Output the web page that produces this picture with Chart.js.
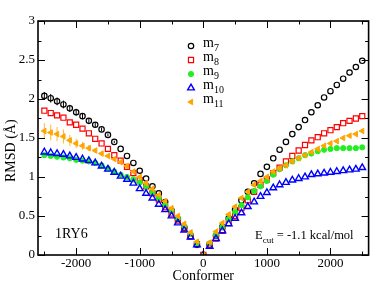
<!DOCTYPE html>
<html>
<head>
<meta charset="utf-8">
<script src="https://cdn.jsdelivr.net/npm/chart.js@4.4.1/dist/chart.umd.min.js"></script>
<style>
  html, body { margin: 0; padding: 0; background: #fff; }
  #wrap { position: relative; width: 374px; height: 281px; font-family: "Liberation Serif", serif; color: #000; }
  #wrap canvas { position: absolute; left: 0; top: 0; }
  .lbl { position: absolute; white-space: nowrap; line-height: 14px; }
  .lbl sub { font-size: 10px; vertical-align: -4px; line-height: 0; }
</style>
</head>
<body>
<div id="wrap">
  <canvas id="myChart" width="374" height="281"></canvas>
  <div class="lbl" style="font-size:14px;transform-origin:0 0;transform:translate(4px,182px) rotate(-90deg);left:0;top:0;">RMSD (Å)</div>
  <div class="lbl" style="left:203px;top:36px;font-size:14px;">m<sub>7</sub></div>
  <div class="lbl" style="left:203px;top:50px;font-size:14px;">m<sub>8</sub></div>
  <div class="lbl" style="left:203px;top:64px;font-size:14px;">m<sub>9</sub></div>
  <div class="lbl" style="left:203px;top:78px;font-size:14px;">m<sub>10</sub></div>
  <div class="lbl" style="left:203px;top:92px;font-size:14px;">m<sub>11</sub></div>
  <div class="lbl" style="left:55px;top:227px;font-size:14px;">1RY6</div>
  <div class="lbl" style="left:255px;top:228px;font-size:12.5px;">E<sub style="font-size:9px">cut</sub> = -1.1 kcal/mol</div>
</div>
<script>
// conformer index
var conformer = [-2500,-2400,-2300,-2200,-2100,-2000,-1900,-1800,-1700,-1600,-1500,-1400,-1300,-1200,-1100,-1000,-900,-800,-700,-600,-500,-400,-300,-200,-100,
  0,100,200,300,400,500,600,700,800,900,1000,1100,1200,1300,1400,1500,1600,1700,1800,1900,2000,2100,2200,2300,2400,2500];

var m7 = [2.04,2.01,1.97,1.93,1.88,1.83,1.78,1.72,1.67,1.61,1.54,1.45,1.36,1.27,1.18,1.08,0.98,0.88,0.79,0.68,0.57,0.46,0.35,0.24,0.13,
  0,0.13,0.25,0.36,0.47,0.58,0.70,0.81,0.92,1.04,1.13,1.24,1.35,1.45,1.55,1.64,1.73,1.83,1.92,2.02,2.10,2.18,2.26,2.34,2.41,2.49];
var m8 = [1.85,1.82,1.79,1.76,1.70,1.67,1.62,1.56,1.49,1.43,1.36,1.28,1.21,1.13,1.05,0.96,0.88,0.79,0.71,0.61,0.53,0.44,0.34,0.24,0.14,
  0,0.13,0.21,0.31,0.41,0.50,0.60,0.70,0.81,0.90,0.97,1.05,1.12,1.20,1.27,1.34,1.41,1.47,1.51,1.56,1.60,1.64,1.69,1.72,1.75,1.78];
var m9 = [1.28,1.27,1.26,1.25,1.24,1.22,1.21,1.20,1.18,1.15,1.11,1.07,1.03,1.00,0.97,0.93,0.88,0.80,0.73,0.64,0.57,0.47,0.37,0.27,0.15,
  0,0.15,0.26,0.36,0.46,0.55,0.64,0.74,0.82,0.88,0.95,1.03,1.10,1.15,1.20,1.24,1.28,1.30,1.33,1.35,1.36,1.37,1.37,1.37,1.37,1.38];
var m10 = [1.32,1.31,1.30,1.29,1.27,1.25,1.23,1.21,1.18,1.14,1.10,1.06,1.01,0.97,0.92,0.85,0.79,0.73,0.65,0.58,0.50,0.41,0.32,0.23,0.13,
  0,0.11,0.21,0.31,0.40,0.47,0.54,0.62,0.68,0.75,0.80,0.86,0.90,0.93,0.96,0.98,1.00,1.03,1.04,1.05,1.06,1.07,1.08,1.09,1.10,1.12];
var m11 = [1.59,1.57,1.55,1.52,1.47,1.43,1.40,1.37,1.34,1.30,1.27,1.23,1.19,1.14,1.07,1.00,0.92,0.85,0.77,0.69,0.60,0.50,0.40,0.29,0.17,
  0,0.16,0.30,0.41,0.52,0.62,0.73,0.81,0.90,0.95,1.00,1.07,1.11,1.15,1.20,1.24,1.28,1.32,1.36,1.40,1.43,1.46,1.50,1.53,1.55,1.59];

// error bars (only the far left points have visible ones)
var err7 = [0.05,0.055,0.05,0.05,0.045,0.045,0.04,0.035,0.03,0.025,0.02,0.015];
var err11 = [0.10,0.10,0.09,0.09,0.07,0.06,0.05,0.04,0.03,0.025,0.02];

var xTicks = [-2000,-1000,0,1000,2000];
var xMinor = [-2500,-1500,-500,500,1500,2500];
var yTicks = [0,0.5,1,1.5,2,2.5,3];
var yMinor = [0.25,0.75,1.25,1.75,2.25,2.75];

function pts(arr) {
  return conformer.map(function (c, i) { return {x: c, y: arr[i]}; });
}

var series = [
  {label: 'm7', data: m7, color: '#000000', style: 'circle', r: 2.7, fill: false, bw: 1.2, rot: 0, order: 5},
  {label: 'm8', data: m8, color: '#ff0000', style: 'rect', r: 3.6, fill: false, bw: 1.2, rot: 0, order: 4},
  {label: 'm9', data: m9, color: '#22ee22', style: 'circle', r: 2.6, fill: true, bw: 1, rot: 0, order: 3},
  {label: 'm10', data: m10, color: '#0000ff', style: 'triangle', r: 3.8, fill: false, bw: 1.4, rot: 0, order: 2},
  {label: 'm11', data: m11, color: '#ffa500', style: 'triangle', r: 3.2, fill: true, bw: 1, rot: -90, order: 1}
];

var errorBars = {
  id: 'errorBars',
  beforeDatasetsDraw: function (chart) {
    var ctx = chart.ctx, x = chart.scales.x, y = chart.scales.y;
    var sets = [[m7, err7, '#000000'], [m11, err11, '#ffb732']];
    ctx.save();
    ctx.lineWidth = 1;
    sets.forEach(function (s) {
      ctx.strokeStyle = s[2];
      ctx.beginPath();
      s[1].forEach(function (e, i) {
        var px = x.getPixelForValue(conformer[i]);
        ctx.moveTo(px, y.getPixelForValue(s[0][i] + e));
        ctx.lineTo(px, y.getPixelForValue(s[0][i] - e));
      });
      ctx.stroke();
    });
    ctx.restore();
  }
};

var frameTicks = {
  id: 'frameTicks',
  afterDraw: function (chart) {
    var ctx = chart.ctx, a = chart.chartArea, x = chart.scales.x, y = chart.scales.y;
    ctx.save();
    ctx.strokeStyle = '#000';
    ctx.lineWidth = 1;
    ctx.beginPath();
    function xt(v, len) {
      var p = Math.round(x.getPixelForValue(v)) + 0.5;
      ctx.moveTo(p, a.bottom); ctx.lineTo(p, a.bottom - len);
      ctx.moveTo(p, a.top); ctx.lineTo(p, a.top + len);
    }
    function yt(v, len) {
      var p = Math.round(y.getPixelForValue(v)) + 0.5;
      ctx.moveTo(a.left, p); ctx.lineTo(a.left + len, p);
      ctx.moveTo(a.right, p); ctx.lineTo(a.right - len, p);
    }
    xTicks.forEach(function (v) { xt(v, 7); });
    xMinor.forEach(function (v) { xt(v, 3.5); });
    yTicks.forEach(function (v) { yt(v, 7); });
    yMinor.forEach(function (v) { yt(v, 3.5); });
    ctx.stroke();
    ctx.lineWidth = 1.6;
    ctx.strokeRect(a.left, a.top, a.right - a.left, a.bottom - a.top);

    // legend markers
    series.forEach(function (s, i) {
      ctx.strokeStyle = s.color;
      ctx.fillStyle = s.fill ? s.color : 'rgba(0,0,0,0)';
      ctx.lineWidth = s.bw;
      Chart.helpers.drawPoint(ctx, {pointStyle: s.style, radius: s.r, rotation: s.rot, borderWidth: s.bw}, 191, 46 + i * 14);
    });
    ctx.restore();
  }
};

var ctx = document.getElementById('myChart');
var myChart = new Chart(ctx, {
  type: 'scatter',
  data: {
    datasets: series.map(function (s) {
      return {
        label: s.label,
        data: pts(s.data),
        order: s.order,
        showLine: false,
        pointStyle: s.style,
        pointRadius: s.r,
        pointRotation: s.rot,
        pointBorderWidth: s.bw,
        borderColor: s.color,
        backgroundColor: s.fill ? s.color : 'rgba(0,0,0,0)'
      };
    })
  },
  options: {
    responsive: false,
    animation: false,
    events: [],
    layout: { padding: { top: 21, right: 3, left: 0, bottom: 0 } },
    plugins: { legend: { display: false }, tooltip: { enabled: false } },
    scales: {
      x: {
        type: 'linear',
        min: -2600,
        max: 2600,
        grid: { display: false, drawTicks: false },
        border: { display: false },
        afterBuildTicks: function (scale) { scale.ticks = xTicks.map(function (v) { return {value: v}; }); },
        afterFit: function (scale) { scale.height = 26; },
        ticks: {
          padding: 1,
          color: '#000',
          font: { family: 'Liberation Serif', size: 13 },
          callback: function (v) { return String(v); }
        },
        title: {
          display: true,
          text: 'Conformer',
          color: '#000',
          font: { family: 'Liberation Serif', size: 14 },
          padding: { top: 0, bottom: -4 }
        }
      },
      y: {
        type: 'linear',
        min: 0,
        max: 3,
        grid: { display: false, drawTicks: false },
        border: { display: false },
        afterBuildTicks: function (scale) { scale.ticks = yTicks.map(function (v) { return {value: v}; }); },
        afterFit: function (scale) { scale.width = 38; },
        ticks: {
          padding: 3,
          color: '#000',
          font: { family: 'Liberation Serif', size: 13 },
          callback: function (v) { return String(v); }
        }
      }
    }
  },
  plugins: [errorBars, frameTicks]
});
</script>
</body>
</html>
